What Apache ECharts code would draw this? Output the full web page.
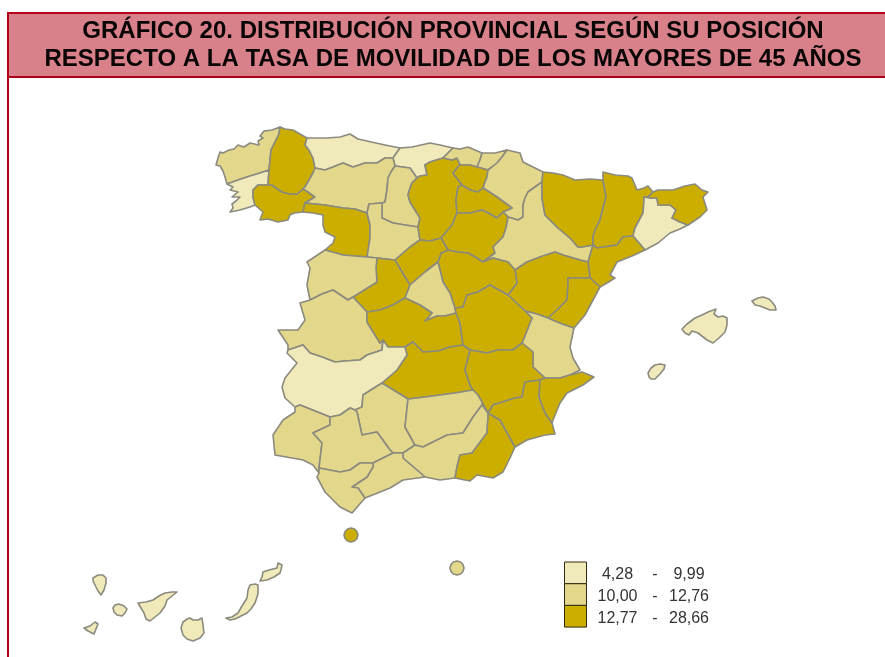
<!DOCTYPE html>
<html>
<head>
<meta charset="utf-8">
<title>Gráfico 20</title>
<script src="https://cdn.jsdelivr.net/npm/echarts@6/dist/echarts.min.js"></script>
<style>
html, body { margin: 0; padding: 0; background: #fff; }
#chart { width: 885px; height: 657px; }
</style>
</head>
<body>
<div id="chart"></div>
<script>
// classes of the legend
var classFrom = ["4,28", "10,00", "12,77"];
var classTo = ["9,99", "12,76", "28,66"];
var classMin = [4.28, 10, 12.77];
var classMax = [9.99, 12.76, 28.66];
var classColors = ["#f0e9ba", "#e3d78c", "#cbae00"];

// the map only gives the class of a province, so each one takes the middle of its class
var classValues = [7.13, 11.38, 20.71];
var lowProvinces = ["Pontevedra", "Asturias", "Cantabria", "Barcelona", "Badajoz", "Baleares", "Las Palmas", "Tenerife"];
var midProvinces = ["A Coruña", "León", "Palencia", "Valladolid", "Bizkaia", "Gipuzkoa", "Navarra", "Zaragoza", "Salamanca", "Madrid", "Cáceres", "Valencia", "Córdoba", "Jaén", "Granada", "Sevilla", "Huelva", "Málaga", "Cádiz", "Melilla"];
var highProvinces = ["Lugo", "Ourense", "Zamora", "Burgos", "Álava", "La Rioja", "Soria", "Segovia", "Ávila", "Guadalajara", "Toledo", "Cuenca", "Ciudad Real", "Albacete", "Murcia", "Alicante", "Almería", "Teruel", "Castellón", "Tarragona", "Lleida", "Huesca", "Girona", "Ceuta"];

// province outlines for the map registered below
var outlines = {
    "A Coruña": ["280,127 272,130 264,131 260,136 263,138 258,141 259,145 250,143 244,147 238,145 234,149 229,150 223,153 220,152 218,158 216,165 220,166 223,171 225,177 227,184 238,180 250,176 260,173 269,170 270,160 271,150 275,142 279,134"],
    "Pontevedra": ["227,184 233,187 230,190 238,192 232,197 240,197 236,201 232,204 233,208 230,212 240,210 250,207 255,205 253,197 253,190 258,185 268,185 269,170 260,173 250,176 238,180"],
    "Ourense": ["253,190 258,185 268,185 272,185 282,192 290,194 297,194 303,189 308,192 315,197 305,203 303,212 294,213 290,215 288,220 278,222 268,219 260,220 263,212 255,205 253,197"],
    "Lugo": ["280,127 285,129 293,130 300,134 307,138 305,145 309,150 313,158 315,168 313,173 309,180 305,187 303,189 297,194 290,194 282,192 272,185 268,185 269,170 270,160 271,150 275,142 279,134"],
    "Asturias": ["307,138 327,138 340,137 350,134 358,139 367,141 385,145 400,148 393,158 385,158 377,163 365,163 353,167 343,163 333,167 325,170 315,168 313,158 309,150 305,145"],
    "Cantabria": ["400,148 412,147 430,143 440,145 453,148 448,153 443,158 430,162 425,165 427,175 420,176 417,178 410,168 395,166 393,158"],
    "León": ["315,168 325,170 333,167 343,163 353,167 365,163 377,163 385,158 393,158 395,166 391,172 388,178 387,190 385,202 382,203 369,204 367,213 355,209 343,208 325,205 305,203 315,197 308,192 303,189 305,187 309,180 313,173"],
    "Palencia": ["395,166 410,168 417,178 412,183 410,188 408,195 410,202 415,210 420,218 418,227 405,225 393,223 382,218 382,203 385,202 387,190 388,178 391,172"],
    "Zamora": ["305,203 325,205 343,208 355,209 367,213 370,225 370,238 367,257 355,256 343,255 325,250 333,243 335,237 325,232 323,225 323,215 313,213 303,212"],
    "Valladolid": ["369,204 382,203 382,218 393,223 405,225 418,227 420,240 410,247 395,260 377,258 367,257 370,238 370,225 367,213"],
    "Burgos": ["425,165 430,162 443,158 452,160 457,158 460,165 457,168 453,173 462,185 458,187 456,200 457,213 452,225 441,238 430,241 420,240 418,227 420,218 415,210 410,202 408,195 410,188 412,183 417,178 420,176 427,175"],
    "Bizkaia": ["453,148 460,149 468,147 475,150 482,153 480,160 477,167 470,165 460,165 457,158 452,160 443,158 448,153"],
    "Gipuzkoa": ["482,153 495,153 507,150 502,157 497,163 492,167 488,170 477,167 480,160"],
    "Álava": ["460,165 470,165 477,167 488,170 487,177 485,182 483,188 478,192 470,190 462,185 453,173 457,168"],
    "Navarra": ["507,150 520,153 523,162 533,167 543,172 542,182 535,187 528,192 525,198 523,205 523,217 518,220 508,217 503,212 512,208 497,197 483,188 485,182 487,177 488,170 492,167 497,163 502,157"],
    "La Rioja": ["462,185 470,190 478,192 483,188 497,197 512,208 503,212 497,218 490,214 482,210 470,213 457,213 456,200 458,187"],
    "Soria": ["457,213 470,213 482,210 490,214 497,218 503,212 508,217 506,228 503,237 493,247 495,253 483,262 475,257 468,253 457,252 448,250 441,238 452,225"],
    "Zaragoza": ["508,217 518,220 523,217 523,205 525,198 528,192 535,187 542,182 542,198 545,215 558,228 570,238 578,247 582,247 593,245 588,262 580,260 563,255 555,252 540,257 527,262 515,270 508,262 493,258 483,262 495,253 493,247 503,237 506,228"],
    "Huesca": ["543,172 553,173 563,175 575,180 590,179 603,180 606,197 603,208 600,220 595,230 593,237 593,245 582,247 578,247 570,238 558,228 545,215 542,198 542,182"],
    "Lleida": ["603,172 615,175 628,176 632,178 637,190 644,188 648,186 653,192 648,197 644,197 644,200 643,213 635,228 633,236 623,237 617,245 597,248 593,245 593,237 595,230 600,220 603,208 606,197 603,180"],
    "Barcelona": ["644,197 650,198 657,198 658,205 670,205 676,210 672,218 680,222 688,225 680,229 670,233 658,243 645,250 633,236 635,228 643,213 644,200"],
    "Girona": ["653,192 658,190 665,190 673,190 685,186 695,184 702,190 708,192 703,197 707,210 700,217 688,225 680,222 672,218 676,210 670,205 658,205 657,198 650,198 648,197"],
    "Tarragona": ["597,248 617,245 623,237 633,236 645,250 632,256 617,262 610,275 615,278 607,283 600,287 590,278 588,262 593,245"],
    "Teruel": ["515,270 527,262 540,257 555,252 563,255 580,260 588,262 590,278 568,278 568,283 567,300 557,310 548,318 537,314 525,311 508,295 517,283"],
    "Castellón": ["568,278 590,278 600,287 593,300 585,315 574,328 565,325 557,322 548,318 557,310 567,300 568,283"],
    "Valencia": ["532,318 525,311 537,314 548,318 557,322 565,325 574,328 570,347 573,358 580,370 570,375 560,378 545,378 533,367 533,352 522,343"],
    "Guadalajara": ["441,253 448,250 457,252 468,253 475,257 483,262 493,258 508,262 515,270 517,283 508,295 490,285 478,292 467,295 463,307 455,308 450,293 443,282 438,262"],
    "Segovia": ["395,260 410,247 420,240 430,241 441,238 448,250 441,253 438,262 425,272 410,285 402,272"],
    "Ávila": ["377,258 395,260 402,272 410,285 405,298 393,305 380,310 367,312 353,297 377,282 376,268"],
    "Madrid": ["438,262 443,282 450,293 455,308 456,313 445,316 437,316 425,321 432,313 420,305 405,298 410,285 425,272"],
    "Salamanca": ["325,250 343,255 355,256 367,257 377,258 376,268 377,282 353,297 348,300 333,290 322,294 310,300 307,285 310,268 307,262"],
    "Cáceres": ["300,303 310,300 322,294 333,290 348,300 353,297 367,312 367,322 380,343 383,340 382,350 367,355 360,360 345,361 335,362 322,357 310,353 303,345 288,350 288,345 278,330 298,330 305,320"],
    "Toledo": ["367,312 380,310 393,305 405,298 420,305 432,313 425,321 437,316 445,316 456,313 460,323 462,338 463,345 450,347 438,351 423,352 413,342 405,347 388,347 383,340 380,343 367,322"],
    "Cuenca": ["456,313 455,308 463,307 467,295 478,292 490,285 508,295 525,311 532,318 522,343 513,350 498,350 487,353 470,350 463,345 462,338 460,323"],
    "Ciudad Real": ["405,347 413,342 423,352 438,351 450,347 463,345 470,350 465,370 470,385 473,390 455,393 440,395 425,397 408,399 395,391 382,383 397,370 407,355"],
    "Albacete": ["470,350 487,353 498,350 513,350 522,343 533,352 533,367 545,378 540,380 525,382 522,397 515,398 493,405 488,413 482,402 478,395 473,390 470,385 465,370"],
    "Badajoz": ["288,350 303,345 310,353 322,357 335,362 345,361 360,360 367,355 382,350 383,340 388,347 405,347 407,355 397,370 382,383 363,395 362,407 355,410 350,408 340,415 330,417 315,411 300,405 295,407 285,398 282,387 285,378 297,363 287,353"],
    "Córdoba": ["382,383 395,391 408,399 405,427 415,445 403,453 393,453 390,450 377,432 362,435 357,412 355,410 362,407 363,395"],
    "Jaén": ["408,399 425,397 440,395 455,393 473,390 478,395 482,402 482,405 473,417 463,433 447,435 423,447 415,445 405,427"],
    "Granada": ["415,445 423,447 447,435 463,433 473,417 482,405 488,413 488,417 487,433 472,453 460,455 457,467 455,478 440,480 425,477 403,458 403,453"],
    "Almería": ["488,413 500,420 515,447 510,458 503,472 493,478 477,475 470,481 455,478 457,467 460,455 472,453 487,433 488,417"],
    "Murcia": ["488,413 493,405 515,398 522,397 525,382 540,380 539,397 545,413 552,423 555,434 545,435 527,440 515,447 500,420"],
    "Alicante": ["545,378 560,378 570,375 582,372 594,377 583,385 567,393 560,403 553,420 552,423 545,413 539,397 540,380"],
    "Huelva": ["300,405 315,411 330,417 330,425 313,433 322,443 319,468 319,473 313,465 303,460 275,455 273,435 283,420 295,412 295,407"],
    "Sevilla": ["330,417 340,415 350,408 355,410 357,412 362,435 377,432 390,450 393,453 373,463 360,463 350,470 340,472 319,468 322,443 313,433 330,425"],
    "Málaga": ["403,453 403,458 425,477 403,480 390,488 365,498 358,488 352,487 367,477 373,467 373,463 393,453"],
    "Cádiz": ["319,468 340,472 350,470 360,463 373,463 373,467 367,477 352,487 358,488 365,498 352,513 340,507 325,492 317,477 319,473"],
    "Ceuta": ["351,528 354.5,529 357,531.5 358,535 357,538.5 354.5,541 351,542 347.5,541 345,538.5 344,535 345,531.5 347.5,529"],
    "Melilla": ["457,561 460.5,562 463,564.5 464,568 463,571.5 460.5,574 457,575 453.5,574 451,571.5 450,568 451,564.5 453.5,562"],
    "Baleares": [
        "682,329 687,324 695,318 702,315 708,312 716,309 714,314 718,317 723,316 727,318 727,325 725,332 719,338 713,343 707,340 698,333 692,331 689,335 685,333",
        "752,301 758,298 763,297 769,299 772,302 775,306 776,310 770,310 765,308 760,306 755,305",
        "648,373 651,368 655,365 660,364 665,365 664,369 660,374 655,379 651,379 649,377"
    ],
    "Tenerife": [
        "93,578 98,575 103,575 106,578 106,583 104,590 101,595 98,591 95,585 93,581",
        "113,608 115,605 119,604 124,606 127,609 125,613 122,616 117,615 114,612",
        "84,628 90,626 95,622 98,624 94,634 88,631",
        "138,603 146,602 153,600 159,596 165,593 172,592 177,592 172,596 167,600 165,606 160,613 155,617 150,621 146,619 144,613 141,608"
    ],
    "Las Palmas": [
        "187,619 190,618 193,620 198,620 202,618 203,625 204,633 200,638 193,641 187,639 183,635 181,628 183,622",
        "226,618 232,617 238,613 242,606 247,598 248,590 250,585 255,584 258,585 258,594 255,603 251,609 247,613 241,616 235,619 230,620",
        "260,581 262,577 263,572 269,570 277,568 278,563 282,565 281,570 280,573 274,577 267,580"
    ]
};

function parseRing(text) {
    var ring = text.split(" ").map(function (pair) {
        return pair.split(",").map(Number);
    });
    ring.push(ring[0]);
    return ring;
}

var minX = Infinity, minY = Infinity, maxX = -Infinity, maxY = -Infinity;
var features = Object.keys(outlines).map(function (name) {
    var rings = outlines[name].map(parseRing);
    rings.forEach(function (ring) {
        ring.forEach(function (p) {
            minX = Math.min(minX, p[0]);
            maxX = Math.max(maxX, p[0]);
            minY = Math.min(minY, p[1]);
            maxY = Math.max(maxY, p[1]);
        });
    });
    return {
        type: "Feature",
        properties: { name: name },
        geometry: {
            type: "MultiPolygon",
            coordinates: rings.map(function (ring) { return [ring]; })
        }
    };
});
echarts.registerMap("provincias", { type: "FeatureCollection", features: features });

function classData(names, value) {
    return names.map(function (name) {
        return { name: name, value: value };
    });
}
var provinceData = classData(lowProvinces, classValues[0])
    .concat(classData(midProvinces, classValues[1]))
    .concat(classData(highProvinces, classValues[2]));

var frameColor = "#b3001b";
var graphics = [
    { type: "rect", shape: { x: 8, y: 13, width: 877, height: 64 }, style: { fill: "#d8818a" } },
    { type: "rect", shape: { x: 7, y: 12, width: 878, height: 2 }, style: { fill: frameColor } },
    { type: "rect", shape: { x: 7, y: 76, width: 878, height: 2 }, style: { fill: frameColor } },
    { type: "rect", shape: { x: 7, y: 12, width: 2, height: 645 }, style: { fill: frameColor } }
];
classColors.forEach(function (color, i) {
    var rowTop = 562 + i * 21.7;
    graphics.push({
        type: "rect",
        shape: { x: 564.5, y: rowTop, width: 22, height: 21.7 },
        style: { fill: color, stroke: "#2e2a10", lineWidth: 1 }
    });
    [[617.5, classFrom[i]], [655, "-"], [689, classTo[i]]].forEach(function (cell) {
        graphics.push({
            type: "text",
            x: cell[0],
            y: 575 + i * 22,
            style: {
                text: cell[1],
                fill: "#333333",
                font: "16px 'Liberation Sans', Arial, sans-serif",
                textAlign: "center",
                textVerticalAlign: "middle"
            }
        });
    });
});

var myChart = echarts.init(document.getElementById("chart"), null, { renderer: "canvas" });
myChart.setOption({
    backgroundColor: "#ffffff",
    animation: false,
    title: {
        text: "GRÁFICO 20. DISTRIBUCIÓN PROVINCIAL SEGÚN SU POSICIÓN\nRESPECTO A LA TASA DE MOVILIDAD DE LOS MAYORES DE 45 AÑOS",
        left: 453,
        top: 17,
        textAlign: "center",
        padding: 0,
        textStyle: {
            color: "#0a0505",
            fontFamily: "'Liberation Sans', Arial, sans-serif",
            fontWeight: "bold",
            fontSize: 24,
            lineHeight: 28
        }
    },
    visualMap: {
        type: "piecewise",
        show: false,
        pieces: classColors.map(function (color, i) {
            return { min: classMin[i], max: classMax[i], color: color };
        })
    },
    graphic: graphics,
    series: [{
        type: "map",
        map: "provincias",
        projection: {
            project: function (p) { return p; },
            unproject: function (p) { return p; }
        },
        left: minX,
        top: minY,
        width: maxX - minX,
        height: maxY - minY,
        roam: false,
        silent: true,
        label: { show: false },
        itemStyle: { borderColor: "#8b8a7e", borderWidth: 1.6, borderJoin: "round" },
        data: provinceData
    }]
});
</script>
</body>
</html>
